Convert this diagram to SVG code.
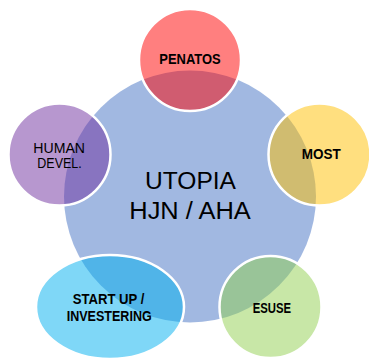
<svg xmlns="http://www.w3.org/2000/svg" width="369" height="360" viewBox="0 0 369 360">
<style>
.bg{fill:#FFFFFF}
.c{fill-opacity:0.5;stroke:#FFFFFF;stroke-width:2.5}
.lb{font-family:"Liberation Sans",Arial,sans-serif;font-weight:bold;font-size:14.5px;fill:#000000}
.lr{font-family:"Liberation Sans",Arial,sans-serif;font-size:14px;fill:#000000}
.big{font-family:"Liberation Sans",Arial,sans-serif;font-size:23px;fill:#000000}
</style>
<rect class="bg" x="0" y="0" width="369" height="360"/>
<g id="utopia">
<circle cx="190" cy="196.5" r="126" fill="#4472C4" fill-opacity="0.5"/>
<text class="big" x="145" y="189.3" textLength="91" lengthAdjust="spacingAndGlyphs">UTOPIA</text>
<text class="big" x="129.3" y="219.3" textLength="121.5" lengthAdjust="spacingAndGlyphs">HJN / AHA</text>
</g>
<g id="penatos">
<circle class="c" cx="190" cy="60" r="51" fill="#FF0000"/>
<text class="lb" x="159.3" y="64" textLength="61.4" lengthAdjust="spacingAndGlyphs">PENATOS</text>
</g>
<g id="most">
<circle class="c" cx="319.5" cy="154.5" r="51" fill="#FFC000"/>
<text class="lb" x="301.7" y="159.3" textLength="39" lengthAdjust="spacingAndGlyphs">MOST</text>
</g>
<g id="esuse">
<circle class="c" cx="270.5" cy="307" r="51" fill="#92D050"/>
<text class="lb" x="252.7" y="313.3" textLength="38.3" lengthAdjust="spacingAndGlyphs">ESUSE</text>
</g>
<g id="startup">
<ellipse class="c" cx="110" cy="307" rx="74" ry="52" fill="#00B0F0"/>
<text class="lb" x="72.7" y="304.3" textLength="71.6" lengthAdjust="spacingAndGlyphs">START UP /</text>
<text class="lb" x="66.7" y="321" textLength="85" lengthAdjust="spacingAndGlyphs">INVESTERING</text>
</g>
<g id="human">
<circle class="c" cx="59.5" cy="154.5" r="51" fill="#7030A0"/>
<text class="lr" x="33.3" y="152.7" textLength="51.7" lengthAdjust="spacingAndGlyphs">HUMAN</text>
<text class="lr" x="37.3" y="167.7" textLength="44.4" lengthAdjust="spacingAndGlyphs">DEVEL.</text>
</g>
</svg>
